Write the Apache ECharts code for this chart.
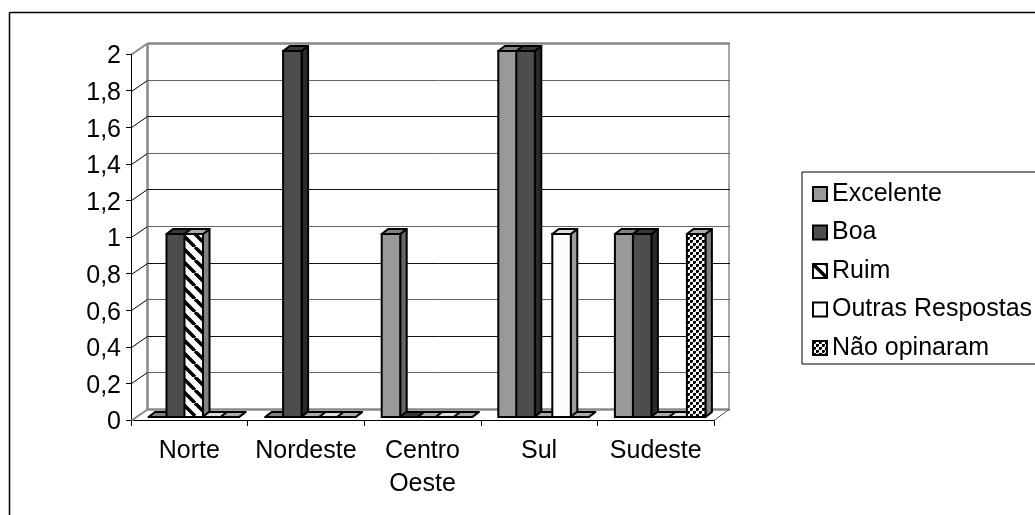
<!DOCTYPE html>
<html><head><meta charset="utf-8">
<style>html,body{margin:0;padding:0;background:#fff}#c{width:1035px;height:515px}</style>
<script src="https://cdn.jsdelivr.net/npm/echarts@6/dist/echarts.min.js"></script>
</head><body><div id="c"></div>
<script>
var categories = ['Norte','Nordeste','Centro\nOeste','Sul','Sudeste'];
var yTicks = [0,0.2,0.4,0.6,0.8,1,1.2,1.4,1.6,1.8,2];
var excelente = [0,0,1,2,1];
var boa = [1,2,0,2,1];
var ruim = [1,0,0,0,0];
var outras = [0,0,0,1,0];
var naoOpinaram = [0,0,0,0,1];
var seriesNames = ['Excelente','Boa','Ruim','Outras Respostas','Não opinaram'];
var seriesValues = [excelente,boa,ruim,outras,naoOpinaram];

function pat(size,draw){var c=document.createElement('canvas');c.width=c.height=size;draw(c.getContext('2d'));return {image:c,repeat:'repeat'};}
var stripes = pat(13,function(g){g.fillStyle='#fff';g.fillRect(0,0,13,13);g.strokeStyle='#000';g.lineWidth=3.5;
  [-13,0,13].forEach(function(o){g.beginPath();g.moveTo(o,0);g.lineTo(o+13,13);g.stroke();});});
var checks = pat(6,function(g){g.fillStyle='#fff';g.fillRect(0,0,6,6);g.fillStyle='#000';g.fillRect(0,0,3,3);g.fillRect(3,3,3,3);g.fillStyle='#999';g.fillRect(2,2,1,1);g.fillRect(5,5,1,1);});
var fronts=['#999999','#4d4d4d',stripes,'#fcfcfc',checks];
var sides=['#666666','#2a2a2a','#808080','#999999','#808080'];
var tops=['#808080','#383838','#aaaaaa','#dddddd','#aaaaaa'];

var WX=16,WY=-11,DX=6.5,DY=-5,OX=17.5,OY=-3,BW=18,FW=18.5;

var chart=echarts.init(document.getElementById('c'),null,{renderer:'canvas'});

function wall(params,api){
  var v=api.value(0);var l=api.coord([0,v]);
  var r=714,x0=131.5,y=Math.round(l[1])+0.5;
  var dark=Math.round(v*5)%2===0;
  var isEdge=(v===0||v===2);
  var items=[];
  items.push({type:'line',shape:{x1:x0,y1:y,x2:x0+WX,y2:y+WY},style:{stroke:isEdge?'#888':'#000',lineWidth:isEdge?2:1}});
  items.push({type:'line',shape:{x1:x0+WX,y1:y+WY,x2:r+WX,y2:y+WY},
    style:{stroke:isEdge?'#888':(dark?'#111':'#666'),lineWidth:isEdge?2.5:1}});
  if(v===0){
    var topY=api.coord([0,2])[1];
    var yt=Math.round(topY)+0.5+WY;
    items.push({type:'line',shape:{x1:x0+WX,y1:yt,x2:x0+WX,y2:y+WY},style:{stroke:'#888',lineWidth:2.5}});
    items.push({type:'line',shape:{x1:r+WX-1,y1:yt,x2:r+WX-1,y2:y+WY},style:{stroke:'#888',lineWidth:1.5}});
    items.push({type:'line',shape:{x1:r,y1:y,x2:r+WX-1,y2:y+WY},style:{stroke:'#555',lineWidth:1}});
  }
  return {type:'group',silent:true,children:items};
}
function bar(si){
  return function(params,api){
    var cat=api.value(0),val=api.value(1);
    var base=api.coord([cat,0]),top=api.coord([cat,val]);
    var bandW=api.size([1,0])[0];
    var left=base[0]-bandW/2+OX+BW*si;
    var bot=base[1]+OY,t=top[1]+OY,r=left+FW;
    var lw=2,st='#000';
    return {type:'group',silent:true,children:[
      {type:'polygon',shape:{points:[[r,bot],[r+DX,bot+DY],[r+DX,t+DY],[r,t]]},style:{fill:sides[si],stroke:st,lineWidth:lw,lineJoin:'round'}},
      {type:'polygon',shape:{points:[[left,t],[left+DX,t+DY],[r+DX,t+DY],[r,t]]},style:{fill:tops[si],stroke:st,lineWidth:lw,lineJoin:'round'}},
      {type:'rect',shape:{x:left,y:t,width:FW,height:bot-t},style:{fill:fronts[si],stroke:st,lineWidth:lw}}
    ]};
  };
}
var series=[{type:'custom',name:'_wall',silent:true,data:yTicks.map(function(v){return [v];}),
  encode:{y:0},renderItem:wall,clip:false,z:1}];
seriesNames.forEach(function(n,i){
  series.push({type:'custom',name:n,silent:true,itemStyle:{color:fronts[i]},
    data:seriesValues[i].map(function(v,c){return [c,v];}),encode:{x:0,y:1},renderItem:bar(i),clip:false,z:3});
});

chart.setOption({
  animation:false,
  backgroundColor:'#fff',
  textStyle:{fontFamily:'"Liberation Sans",Arial,sans-serif'},
  grid:{left:131,top:54,width:583,height:366,containLabel:false},
  xAxis:{type:'category',data:categories,boundaryGap:true,
    axisLine:{show:true,lineStyle:{color:'#000',width:1}},
    axisTick:{show:true,length:6,alignWithLabel:false,lineStyle:{color:'#000'}},
    axisLabel:{color:'#000',fontSize:25,lineHeight:33,margin:15,interval:0,hideOverlap:false},splitLine:{show:false}},
  yAxis:{type:'value',min:0,max:2,interval:0.2,
    axisLine:{show:true,lineStyle:{color:'#000',width:1}},
    axisTick:{show:true,length:5,lineStyle:{color:'#000'}},
    axisLabel:{color:'#000',fontSize:25,margin:10,
      rich:{t:{fontSize:25,color:'#000',lineHeight:25,padding:[5,0,0,0]}},
      formatter:function(v){return '{t|'+String(Math.round(v*10)/10).replace('.',',')+'}';}},
    splitLine:{show:false}},
  legend:{show:true,orient:'vertical',left:802,top:172,padding:[8,40,2,10],
    itemWidth:14,itemHeight:14,itemGap:10.5,
    backgroundColor:'#fff',borderColor:'#000',borderWidth:1,
    textStyle:{color:'#000',fontSize:25,height:28,lineHeight:28},selectedMode:false,
    data:seriesNames.map(function(n,i){return {name:n,icon:'rect',itemStyle:{color:fronts[i],borderColor:'#000',borderWidth:2}};})},
  graphic:[
    {type:'line',silent:true,z:0,shape:{x1:9.5,y1:515,x2:9.5,y2:12.5},style:{stroke:'#000',lineWidth:1.5}},
    {type:'line',silent:true,z:0,shape:{x1:9.5,y1:12.5,x2:1035,y2:12.5},style:{stroke:'#000',lineWidth:1.5}}
  ],
  series:series
});
</script></body></html>
